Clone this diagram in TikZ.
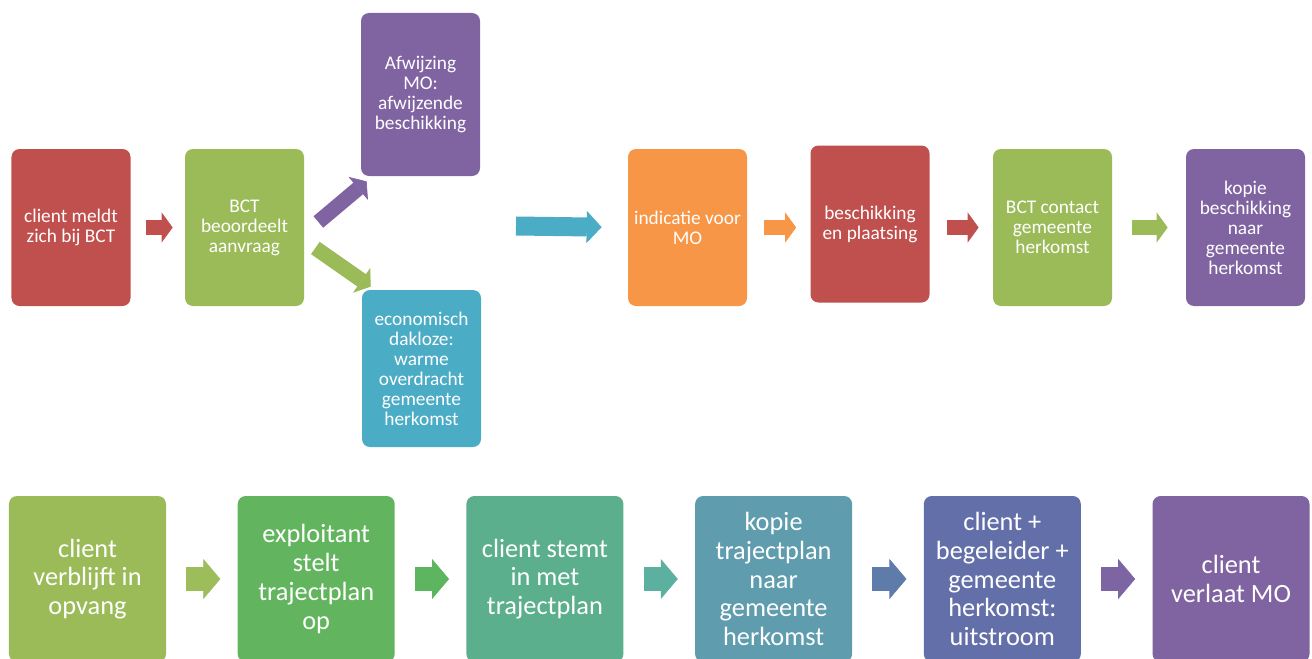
\documentclass[tikz,border=0pt]{standalone}
\usepackage{fontspec}
\setmainfont{Carlito}
\usepackage{tikz}
\usetikzlibrary{positioning, calc}
\usetikzlibrary{arrows.meta}

\begin{document}
\begin{tikzpicture}[x=0.2mm, y=-0.2mm, align=center, text=white,
        box/.style={fill=#1, rounded corners=1.6mm, minimum width=23.8mm, minimum height=31.4mm, inner sep=0.8mm, font=\fontsize{11}{11.4}\selectfont},
        bigbox/.style={fill=#1, rounded corners=1.6mm, minimum width=31.4mm, minimum height=33.2mm, inner sep=0.8mm, font=\fontsize{15}{16.4}\selectfont},
        blk/.style={draw=#1, line width=3mm, -{Triangle[length=2.2mm, width=6mm, line width=0.4pt]}},
        bigblk/.style={draw=#1, line width=4.8mm, shorten <=4mm, shorten >=3.4mm, -{Triangle[length=3.4mm, width=8mm, line width=0.4pt]}}]
        % Define colors
        \definecolor{sared}{HTML}{C0504D}
        \definecolor{sagreen}{HTML}{9BBB59}
        \definecolor{sapurple}{HTML}{8064A2}
        \definecolor{sablue}{HTML}{4BACC6}
        \definecolor{saorange}{HTML}{F79646}
        \definecolor{sgreen}{HTML}{62B55E}
        \definecolor{steal}{HTML}{5BAF8D}
        \definecolor{spetrol}{HTML}{5F9CAD}
        \definecolor{sindigo}{HTML}{636FA8}
        \definecolor{aone}{HTML}{9DBC5A}
        \definecolor{atwo}{HTML}{5DB55F}
        \definecolor{athree}{HTML}{5CB0A0}
        \definecolor{afour}{HTML}{5F7BAA}
        \definecolor{afive}{HTML}{7D65A3}

        \useasboundingbox (0,0) rectangle (1312,659);

        % Nodes
        \node[box=sared] (meldt) at (71,227.5) {client meldt\\zich bij BCT};
        \node[box=sagreen] (bct) at (244.5,227.5) {BCT\\beoordeelt\\aanvraag};
        \node[box=sapurple, minimum height=32.6mm] (afw) at (420.5,94.5) {Afwijzing\\MO:\\afwijzende\\beschikking};
        \node[box=sablue] (eco) at (421.5,368.5) {economisch\\dakloze:\\warme\\overdracht\\gemeente\\herkomst};
        \coordinate (ingang) at (516,226);
        \node[box=saorange] (ind) at (687.5,227.5) {indicatie voor\\MO};
        \node[box=sared] (besch) at (870,224) {beschikking\\en plaatsing};
        \node[box=sagreen] (contact) at (1052.5,227.5) {BCT contact\\gemeente\\herkomst};
        \node[box=sapurple] (kopie) at (1245.5,227.5) {kopie\\beschikking\\naar\\gemeente\\herkomst};

        \node[bigbox=sagreen] (opvang) at (87.5,579) {client\\verblijft in\\opvang};
        \node[bigbox=sgreen, right=14.2mm of opvang] (exploit) {exploitant\\stelt\\trajectplan\\op};
        \node[bigbox=steal, right=14.2mm of exploit] (stemt) {client stemt\\in met\\trajectplan};
        \node[bigbox=spetrol, right=14.2mm of stemt] (trajkopie) {kopie\\trajectplan\\naar\\gemeente\\herkomst};
        \node[bigbox=sindigo, right=14.2mm of trajkopie] (uitstroom) {client +\\begeleider +\\gemeente\\herkomst:\\uitstroom};
        \node[bigbox=sapurple, right=14.2mm of uitstroom] (verlaat) {client\\verlaat MO};

        % Edges
        \draw[blk=sared, shorten <=3mm, shorten >=2.4mm] (meldt) -- (bct);
        \draw[blk=sapurple] ([xshift=2.8mm, yshift=1.1mm]bct.east) -- ([xshift=1.2mm, yshift=-1mm]afw.south west);
        \draw[blk=sagreen] ([xshift=2.2mm, yshift=-4.1mm]bct.east) -- ([xshift=1.8mm, yshift=0.6mm]eco.north west);
        \draw[draw=sablue, line width=3.8mm, shorten >=5.2mm, -{Triangle[length=3mm, width=6.4mm, line width=0.4pt]}] (ingang) -- (ind.west);
        \draw[blk=saorange, shorten <=3.4mm, shorten >=2.8mm] (ind.east) -- (ind.east -| besch.west);
        \draw[blk=sared, shorten <=3.4mm, shorten >=2.8mm] (besch.east |- contact) -- (contact.west);
        \draw[blk=sagreen, shorten <=4mm, shorten >=3.6mm] (contact) -- (kopie);

        \foreach \a/\b/\c in {opvang/exploit/aone, exploit/stemt/atwo, stemt/trajkopie/athree, trajkopie/uitstroom/afour, uitstroom/verlaat/afive} {
            \draw[bigblk=\c] (\a) -- (\b);
        }
    \end{tikzpicture}
\end{document}
